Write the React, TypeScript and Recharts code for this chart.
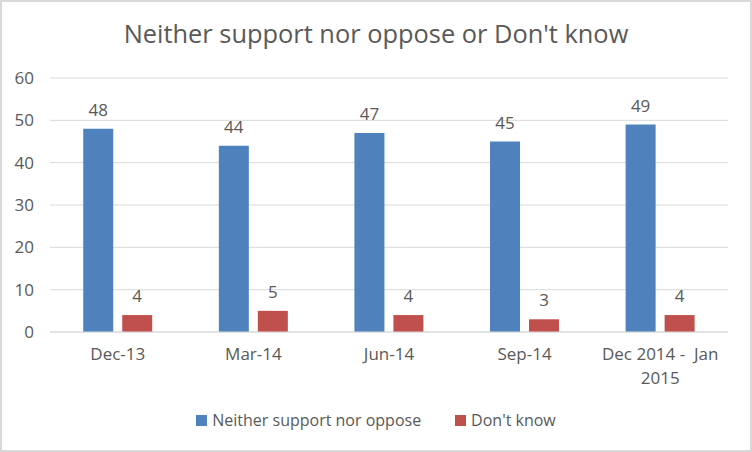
import React from "react";
import { BarChart, Bar, XAxis, YAxis, CartesianGrid, LabelList } from "recharts";

const categories = ["Dec-13", "Mar-14", "Jun-14", "Sep-14", "Dec 2014 -  Jan 2015"];
const neitherValues = [48, 44, 47, 45, 49];
const dontKnowValues = [4, 5, 4, 3, 4];
const yTicks = [0, 10, 20, 30, 40, 50, 60];
const seriesNames = ["Neither support nor oppose", "Don't know"];
const seriesColors = ["#4F81BD", "#C0504D"];

const data = categories.map((c, i) => ({
  name: c,
  neither: neitherValues[i],
  dontKnow: dontKnowValues[i],
}));

const FONT = "'Open Sans', sans-serif";
const TEXT = "#595959";
const FS = 17;

function wrapLabel(s: string, maxChars: number): string[] {
  if (s.length <= maxChars) return [s];
  const idx = s.lastIndexOf(" ", maxChars);
  if (idx <= 0) return [s];
  return [s.slice(0, idx + 1).replace(/ $/, ""), s.slice(idx + 1)];
}

const XTick = (props: any) => {
  const { x, y, payload } = props;
  const lines = wrapLabel(String(payload.value), 16);
  return (
    <g transform={`translate(${x},${y})`}>
      {lines.map((l, i) => (
        <text
          key={i}
          x={0}
          y={0}
          dy={20 + i * 24}
          textAnchor="middle"
          fill={TEXT}
          fontSize={FS}
          fontFamily={FONT}
          style={{ whiteSpace: "pre" }}
        >
          {l}
        </text>
      ))}
    </g>
  );
};

export default function App() {
  return (
    <div
      style={{
        position: "absolute",
        left: 0,
        top: 0,
        width: 752,
        height: 452,
        boxSizing: "border-box",
        border: "2px solid #d9d9d9",
        background: "#fff",
        fontFamily: FONT,
      }}
    >
      <div
        style={{
          position: "absolute",
          left: 0,
          top: 14,
          width: 748,
          textAlign: "center",
          fontSize: 25.4,
          color: TEXT,
          fontFamily: FONT,
        }}
      >
        Neither support nor oppose or Don't know
      </div>
      <div style={{ position: "absolute", left: -2, top: -2 }}>
        <BarChart
          width={752}
          height={452}
          data={data}
          margin={{ top: 78, right: 24, bottom: 90, left: 0 }}
          barCategoryGap="24.5%"
          barGap={9}
        >
          <CartesianGrid vertical={false} stroke="#d9d9d9" />
          <XAxis
            dataKey="name"
            height={30}
            axisLine={{ stroke: "#d9d9d9" }}
            tickLine={false}
            tick={<XTick />}
            interval={0}
          />
          <YAxis
            width={50}
            domain={[0, 60]}
            ticks={yTicks}
            axisLine={false}
            tickLine={false}
            tickMargin={10}
            tick={{ fill: TEXT, fontSize: FS, fontFamily: FONT }}
          />
          <Bar dataKey="neither" name={seriesNames[0]} fill={seriesColors[0]} isAnimationActive={false}>
            <LabelList dataKey="neither" position="top" offset={13} fill={TEXT} fontSize={FS} fontFamily={FONT} />
          </Bar>
          <Bar dataKey="dontKnow" name={seriesNames[1]} fill={seriesColors[1]} isAnimationActive={false}>
            <LabelList dataKey="dontKnow" position="top" offset={13} fill={TEXT} fontSize={FS} fontFamily={FONT} />
          </Bar>
        </BarChart>
      </div>
      <div
        style={{
          position: "absolute",
          left: 0,
          top: 407,
          width: 748,
          display: "flex",
          justifyContent: "center",
          alignItems: "center",
          fontSize: 16,
          color: TEXT,
          fontFamily: FONT,
        }}
      >
        {seriesNames.map((n, i) => (
          <div key={n} style={{ display: "flex", alignItems: "center", marginRight: i === 0 ? 34 : 0 }}>
            <span style={{ display: "inline-block", width: 11, height: 11, background: seriesColors[i], marginRight: 5 }} />
            <span>{n}</span>
          </div>
        ))}
      </div>
    </div>
  );
}
